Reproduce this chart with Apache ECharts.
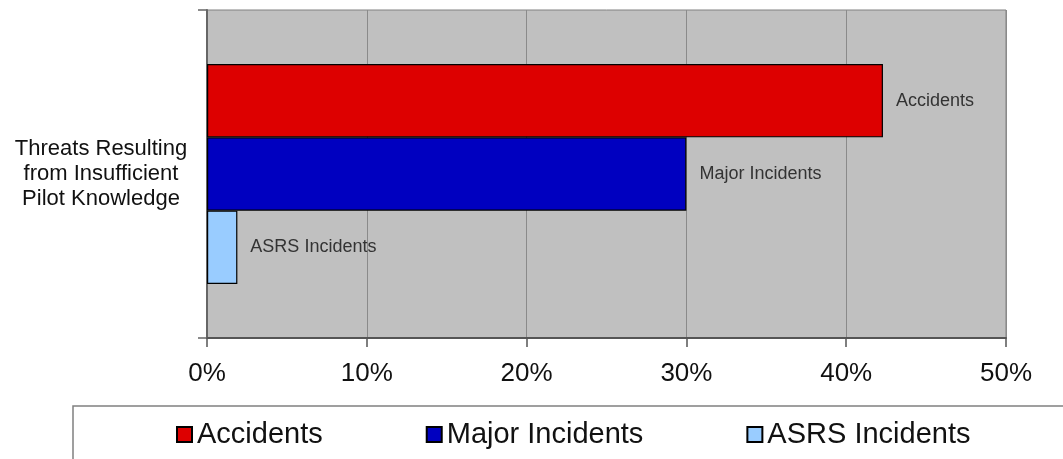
<!DOCTYPE html>
<html>
<head>
<meta charset="utf-8">
<script src="https://cdn.jsdelivr.net/npm/echarts@6/dist/echarts.min.js"></script>
<style>
  html, body { margin: 0; padding: 0; background: #fff; }
  #chart { width: 1063px; height: 459px; }
</style>
</head>
<body>
<div id="chart"></div>
<script>
const categories = ['Threats Resulting\nfrom Insufficient\nPilot Knowledge'];
const accidents = [42.3];
const majorIncidents = [30.0];
const asrsIncidents = [1.9];
const xTicks = [0, 10, 20, 30, 40, 50];

const chart = echarts.init(document.getElementById('chart'));
const font = 'Liberation Sans, Arial, sans-serif';

function barSeries(name, data, color) {
    return {
        name: name,
        type: 'bar',
        data: data,
        barGap: '0%',
        barCategoryGap: '33%',
        itemStyle: { color: color, borderColor: '#000', borderWidth: 1.2 },
        label: {
            show: true,
            position: 'right',
            distance: 13,
            formatter: name,
            color: '#333',
            fontFamily: font,
            fontSize: 18
        }
    };
}

const option = {
    animation: false,
    textStyle: { fontFamily: font },
    grid: {
        left: 207, right: 57, top: 10, bottom: 121,
        show: true,
        backgroundColor: '#c0c0c0',
        borderColor: '#808080',
        borderWidth: 1
    },
    graphic: [{
        type: 'rect',
        shape: { x: 73, y: 406, width: 1100, height: 100 },
        style: { fill: 'none', stroke: '#808080', lineWidth: 1.5 },
        z: 0
    }],
    legend: {
        left: 176,
        top: 420,
        padding: 0,
        itemWidth: 15,
        itemHeight: 15,
        itemGap: 103,
        icon: 'rect',
        textStyle: { fontSize: 29, color: '#111', fontFamily: font },
        data: ['Accidents', 'Major Incidents', 'ASRS Incidents']
    },
    xAxis: {
        type: 'value',
        min: xTicks[0],
        max: xTicks[xTicks.length - 1],
        interval: 10,
        axisLine: { show: true, lineStyle: { color: '#555', width: 2 } },
        axisTick: { show: true, length: 9, lineStyle: { color: '#555', width: 1.5 } },
        splitLine: { show: true, lineStyle: { color: '#8a8a8a', width: 1 } },
        axisLabel: {
            formatter: '{value}%',
            fontSize: 26,
            color: '#111',
            margin: 23
        }
    },
    yAxis: {
        type: 'category',
        inverse: true,
        data: categories,
        axisLine: { show: true, lineStyle: { color: '#666', width: 2 } },
        axisTick: { show: true, length: 9, lineStyle: { color: '#666', width: 1.5 } },
        axisLabel: {
            align: 'center',
            margin: 106,
            fontSize: 22,
            lineHeight: 25,
            color: '#111'
        }
    },
    series: [
        barSeries('Accidents', accidents, '#dd0000'),
        barSeries('Major Incidents', majorIncidents, '#0000c0'),
        barSeries('ASRS Incidents', asrsIncidents, '#99ccff')
    ]
};

chart.setOption(option);
</script>
</body>
</html>
